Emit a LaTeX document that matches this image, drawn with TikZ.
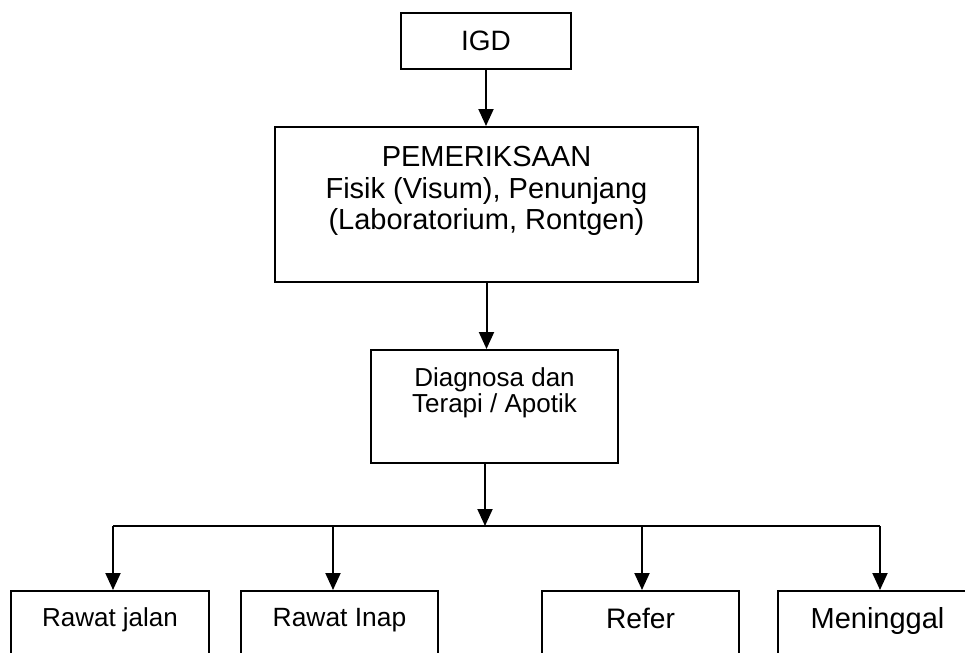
\documentclass[tikz,border=0pt]{standalone}
\usepackage{fontspec}
\setmainfont{Liberation Sans}
\usetikzlibrary{arrows.meta, positioning}

\begin{document}
\begin{tikzpicture}[
  x=0.5pt, y=-0.5pt,
  line width=1pt,
  >={Triangle[length=8.5pt,width=7.5pt]},
  box/.style={rectangle, draw, inner sep=0pt},
  txt/.style={inner sep=0pt, align=center}]

  \clip (0,0) rectangle (965,653);

  \node[box, minimum width=85pt, minimum height=28pt, font=\fontsize{14}{16}\selectfont] (igd) at (486,41) {IGD};
  \node[box, minimum width=211.5pt, minimum height=77.5pt] (pem) at (486.5,204.5) {};
  \node[txt, font=\fontsize{14.5}{15.8}\selectfont] (pemtxt) at (486.5,191)
    {PEMERIKSAAN\\Fisik (Visum), Penunjang\\(Laboratorium, Rontgen)};
  \node[box, minimum width=123.5pt, minimum height=56.5pt] (diag) at (494.5,406.5) {};
  \node[txt, font=\fontsize{13}{11.8}\selectfont] (diagtxt) at (494.5,393)
    {Diagnosa dan\\Terapi / Apotik};

  \node[box, anchor=north, minimum width=99pt, minimum height=75pt] (rj) at (110,590) {};
  \node[box, anchor=north, minimum width=98.5pt, minimum height=75pt] (ri) at (339.5,590) {};
  \node[box, anchor=north, minimum width=98.5pt, minimum height=75pt] (rf) at (640.5,590) {};
  \node[box, anchor=north, minimum width=98.5pt, minimum height=75pt] (mg) at (876.5,590) {};
  \node[txt, anchor=base, font=\fontsize{13}{15}\selectfont] (rjtxt) at (110,626) {Rawat jalan};
  \node[txt, anchor=base, font=\fontsize{13.2}{15}\selectfont] (ritxt) at (339.5,626) {Rawat Inap};
  \node[txt, anchor=base, font=\fontsize{14.1}{16}\selectfont] (rftxt) at (640.5,628) {Refer};
  \node[txt, anchor=base, font=\fontsize{14.5}{16}\selectfont] (mgtxt) at (877.5,628) {Meninggal};

  \coordinate (split) at (485,526);
  \coordinate (b1) at (113,526);
  \coordinate (b2) at (333,526);
  \coordinate (b3) at (642,526);
  \coordinate (b4) at (880,526);

  \draw[->] (igd) -- (igd |- pem.north);
  \draw[->] (pem) -- (pem |- diag.north);
  \draw[->] (diag.south -| split) -- (split);
  \draw (b1) -- (b4);
  \foreach \b/\n in {b1/rj, b2/ri, b3/rf, b4/mg}
    \draw[->] (\b) -- (\b |- \n.north);
\end{tikzpicture}
\end{document}
